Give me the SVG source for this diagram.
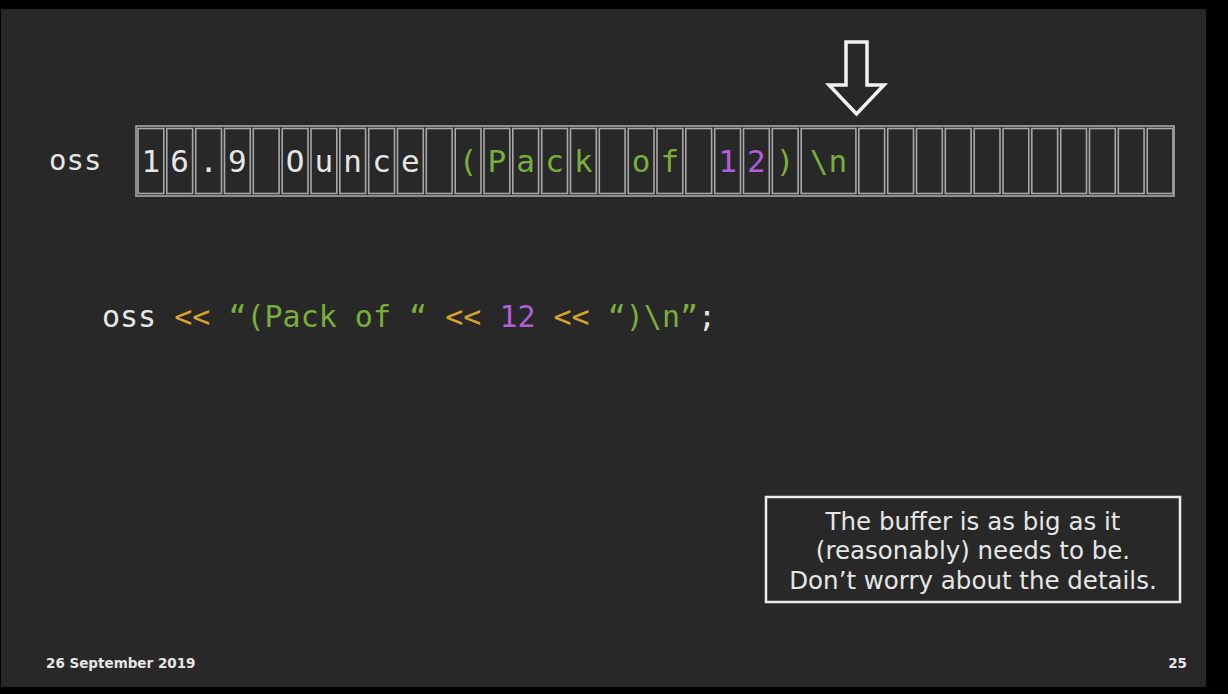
<svg xmlns="http://www.w3.org/2000/svg" width="1228" height="694" viewBox="0 0 1228 694">
  <style>
    .cell { fill: none; stroke: #a8a8a8; stroke-width: 1.6; }
    .mono { font-family: "DejaVu Sans Mono", "Liberation Mono", monospace; }
    .ch { font-size: 31px; text-anchor: middle; }
    .w { fill: #e6e6e6; }
    .g { fill: #7aae3a; }
    .p { fill: #b25edb; }
    .o { fill: #dba426; }
    .sans { font-family: "DejaVu Sans", "Liberation Sans", sans-serif; }
  </style>
  <rect x="0" y="0" width="1228" height="694" fill="#000"/>
  <rect x="1" y="9" width="1205" height="678" fill="#282828"/>

  <g id="label-oss">
    <text class="mono w" x="49" y="170" font-size="29">oss</text>
  </g>

  <g id="buffer">
    <rect x="136" y="126" width="1038" height="70" class="cell"/>
    <g>
      <rect class="cell" x="138" y="128.5" width="25.8" height="65"/>
      <rect class="cell" x="166.8" y="128.5" width="25.8" height="65"/>
      <rect class="cell" x="195.7" y="128.5" width="25.8" height="65"/>
      <rect class="cell" x="224.5" y="128.5" width="25.8" height="65"/>
      <rect class="cell" x="253.3" y="128.5" width="25.8" height="65"/>
      <rect class="cell" x="282.2" y="128.5" width="25.8" height="65"/>
      <rect class="cell" x="311" y="128.5" width="25.8" height="65"/>
      <rect class="cell" x="339.8" y="128.5" width="25.8" height="65"/>
      <rect class="cell" x="368.7" y="128.5" width="25.8" height="65"/>
      <rect class="cell" x="397.5" y="128.5" width="25.8" height="65"/>
      <rect class="cell" x="426.3" y="128.5" width="25.8" height="65"/>
      <rect class="cell" x="455.2" y="128.5" width="25.8" height="65"/>
      <rect class="cell" x="484" y="128.5" width="25.8" height="65"/>
      <rect class="cell" x="512.8" y="128.5" width="25.8" height="65"/>
      <rect class="cell" x="541.7" y="128.5" width="25.8" height="65"/>
      <rect class="cell" x="570.5" y="128.5" width="25.8" height="65"/>
      <rect class="cell" x="599.3" y="128.5" width="25.8" height="65"/>
      <rect class="cell" x="628.2" y="128.5" width="25.8" height="65"/>
      <rect class="cell" x="657" y="128.5" width="25.8" height="65"/>
      <rect class="cell" x="685.8" y="128.5" width="25.8" height="65"/>
      <rect class="cell" x="714.7" y="128.5" width="25.8" height="65"/>
      <rect class="cell" x="743.5" y="128.5" width="25.8" height="65"/>
      <rect class="cell" x="772.3" y="128.5" width="25.8" height="65"/>
      <rect class="cell" x="801.2" y="128.5" width="54.7" height="65"/>
      <rect class="cell" x="858.8" y="128.5" width="25.8" height="65"/>
      <rect class="cell" x="887.7" y="128.5" width="25.8" height="65"/>
      <rect class="cell" x="916.5" y="128.5" width="25.8" height="65"/>
      <rect class="cell" x="945.3" y="128.5" width="25.8" height="65"/>
      <rect class="cell" x="974.2" y="128.5" width="25.8" height="65"/>
      <rect class="cell" x="1003" y="128.5" width="25.8" height="65"/>
      <rect class="cell" x="1031.8" y="128.5" width="25.8" height="65"/>
      <rect class="cell" x="1060.7" y="128.5" width="25.8" height="65"/>
      <rect class="cell" x="1089.5" y="128.5" width="25.8" height="65"/>
      <rect class="cell" x="1118.3" y="128.5" width="25.8" height="65"/>
      <rect class="cell" x="1147.2" y="128.5" width="25.8" height="65"/>
    </g>
    <g class="mono ch">
      <text class="w" x="150.9" y="172">1</text>
      <text class="w" x="179.7" y="172">6</text>
      <text class="w" x="208.6" y="172">.</text>
      <text class="w" x="237.4" y="172">9</text>
      <text class="w" x="295.1" y="172">O</text>
      <text class="w" x="323.9" y="172">u</text>
      <text class="w" x="352.7" y="172">n</text>
      <text class="w" x="381.6" y="172">c</text>
      <text class="w" x="410.4" y="172">e</text>
      <text class="g" x="468.1" y="172">(</text>
      <text class="g" x="496.9" y="172">P</text>
      <text class="g" x="525.7" y="172">a</text>
      <text class="g" x="554.6" y="172">c</text>
      <text class="g" x="583.4" y="172">k</text>
      <text class="g" x="641.1" y="172">o</text>
      <text class="g" x="669.9" y="172">f</text>
      <text class="p" x="727.6" y="172">1</text>
      <text class="p" x="756.4" y="172">2</text>
      <text class="g" x="785.2" y="172">)</text>
      <text class="g" x="828.5" y="172">\n</text>
    </g>
  </g>

  <g id="pointer-arrow">
    <path d="M846,42 H867 V85 H884 L856.5,114 L829,85 H846 Z" fill="#282828" stroke="#f2f2f2" stroke-width="3.5" stroke-linejoin="miter"/>
  </g>

  <g id="code-line">
    <text class="mono" x="102" y="327" font-size="30" xml:space="preserve"><tspan class="w">oss</tspan> <tspan class="o">&lt;&lt;</tspan> <tspan class="g">“(Pack of “</tspan> <tspan class="o">&lt;&lt;</tspan> <tspan class="p">12</tspan> <tspan class="o">&lt;&lt;</tspan> <tspan class="g">“)\n”</tspan><tspan class="w">;</tspan></text>
  </g>

  <g id="note-box">
    <rect x="766" y="497" width="414" height="105" fill="none" stroke="#ececec" stroke-width="2.5"/>
    <g class="sans w" font-size="24.5" text-anchor="middle">
      <text x="973" y="530">The buffer is as big as it</text>
      <text x="973" y="559">(reasonably) needs to be.</text>
      <text x="973" y="589">Don’t worry about the details.</text>
    </g>
  </g>

  <g id="footer">
    <text class="sans w" x="46" y="668" font-size="13.5" font-weight="bold">26 September 2019</text>
    <text class="sans w" x="1187" y="668" font-size="13.5" font-weight="bold" text-anchor="end">25</text>
  </g>
</svg>
